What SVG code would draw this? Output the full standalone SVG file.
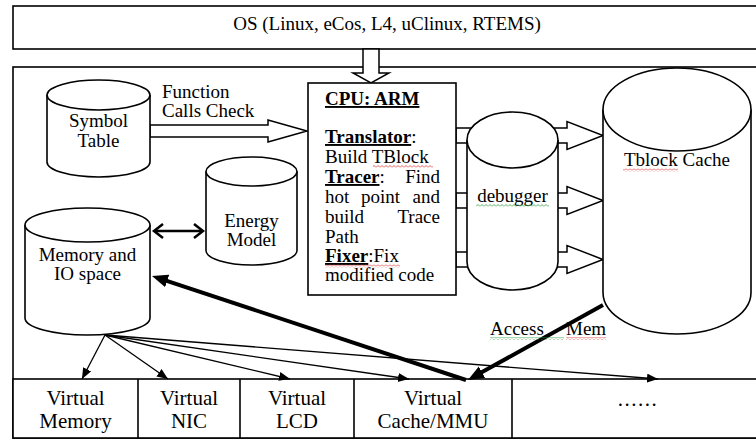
<svg xmlns="http://www.w3.org/2000/svg" width="756" height="440" viewBox="0 0 756 440">
  <style>
    text { font-family: "Liberation Serif", "Times New Roman", serif; fill: #000; }
    .t19 { font-size: 19px; }
    .t21 { font-size: 21px; }
    .mid { text-anchor: middle; }
    .end { text-anchor: end; }
    .b { font-weight: bold; text-decoration: underline; }
    .box { fill: #fff; stroke: #000; stroke-width: 1.6; }
    .cyl { fill: #fff; stroke: #000; stroke-width: 1.6; }
    .hollow { fill: #fff; stroke: #000; stroke-width: 1.5; stroke-linejoin: miter; }
    .thin { fill: none; stroke: #000; stroke-width: 1.3; marker-end: url(#headThin); }
    .thick { fill: none; stroke: #000; stroke-width: 4; marker-end: url(#headThick); }
  </style>
  <defs>
    <marker id="headThin" markerUnits="userSpaceOnUse" markerWidth="12" markerHeight="10" refX="11" refY="4.5" orient="auto">
      <path d="M0,0 L11,4.5 L0,9 z" fill="#000"/>
    </marker>
    <marker id="headThick" markerUnits="userSpaceOnUse" markerWidth="18" markerHeight="14" refX="6" refY="6.5" orient="auto">
      <path d="M0,0 L16,6.5 L0,13 z" fill="#000"/>
    </marker>
    <pattern id="waveRed" patternUnits="userSpaceOnUse" width="4" height="3">
      <path d="M0,2.5 L2,0.5 L4,2.5" fill="none" stroke="#e03030" stroke-width="0.8"/>
    </pattern>
    <pattern id="waveGreen" patternUnits="userSpaceOnUse" width="4" height="3">
      <path d="M0,2.5 L2,0.5 L4,2.5" fill="none" stroke="#2a9a3a" stroke-width="0.8"/>
    </pattern>
  </defs>

  <!-- operating system layer -->
  <g id="os">
    <rect class="box" x="13" y="6" width="760" height="43"/>
    <text class="t19 mid" x="387" y="30">OS (Linux, eCos, L4, uClinux, RTEMS)</text>
  </g>

  <!-- simulator frame -->
  <g id="frame">
    <rect class="box" x="13" y="67" width="760" height="371"/>
  </g>

  <g id="connectors">
    <!-- OS to CPU -->
    <polygon class="hollow" points="363,49 379,49 379,73 389,73 371,83 353,73 363,73"/>
    <!-- function calls check -->
    <polygon class="hollow" points="150,125 268,125 268,120 307,131 268,142 268,137 150,137"/>
    <!-- CPU through debugger to Tblock Cache -->
    <polygon class="hollow" points="456,128 567,128 567,121.5 603,135.5 567,149.5 567,143 456,143"/>
    <polygon class="hollow" points="456,193 567,193 567,186.5 603,200.5 567,214.5 567,208 456,208"/>
    <polygon class="hollow" points="456,252 567,252 567,245.5 603,259.5 567,273.5 567,267 456,267"/>
  </g>

  <!-- Symbol Table -->
  <g id="symbol-table">
    <path class="cyl" d="M47,95 L47,162 A51.5,15 0 0 0 150,162 L150,95"/>
    <ellipse class="cyl" cx="98.5" cy="95" rx="51.5" ry="15"/>
    <text class="t19 mid" x="98.5" y="127">Symbol</text>
    <text class="t19 mid" x="98.5" y="147">Table</text>
  </g>
  <text class="t19" x="162" y="98">Function</text>
  <text class="t19" x="162" y="117">Calls Check</text>

  <!-- Energy Model -->
  <g id="energy-model">
    <path class="cyl" d="M206,171.5 L206,250.5 A45.5,14.5 0 0 0 297,250.5 L297,171.5"/>
    <ellipse class="cyl" cx="251.5" cy="171.5" rx="45.5" ry="14.5"/>
    <text class="t19 mid" x="251.5" y="227">Energy</text>
    <text class="t19 mid" x="251.5" y="246">Model</text>
  </g>

  <!-- Memory and IO space -->
  <g id="memory-io">
    <path class="cyl" d="M25,225 L25,318 A62.5,17 0 0 0 150,318 L150,225"/>
    <ellipse class="cyl" cx="87.5" cy="225" rx="62.5" ry="17"/>
    <text class="t19 mid" x="87.5" y="261">Memory and</text>
    <text class="t19 mid" x="87.5" y="280">IO space</text>
  </g>

  <!-- CPU -->
  <g id="cpu">
    <rect class="box" x="308" y="83" width="148" height="212"/>
    <text class="t19" x="325" y="105"><tspan class="b">CPU: ARM</tspan></text>
    <text class="t19" x="325" y="143"><tspan class="b">Translator</tspan>:</text>
    <text class="t19" x="325" y="163">Build TBlock</text>
    <rect x="373" y="165" width="60" height="3" fill="url(#waveRed)"/>
    <text class="t19" x="325" y="183"><tspan class="b">Tracer</tspan>:</text>
    <text class="t19 end" x="440" y="183">Find</text>
    <text class="t19" x="325" y="203">hot</text>
    <text class="t19" x="361" y="203">point</text>
    <text class="t19 end" x="440" y="203">and</text>
    <text class="t19" x="325" y="223">build</text>
    <text class="t19 end" x="440" y="223">Trace</text>
    <text class="t19" x="325" y="243">Path</text>
    <text class="t19" x="325" y="262"><tspan class="b">Fixer</tspan>:Fix</text>
    <rect x="325" y="264.5" width="75" height="3" fill="url(#waveRed)"/>
    <text class="t19" x="325" y="281">modified code</text>
  </g>

  <!-- debugger -->
  <g id="debugger">
    <path class="cyl" d="M467,140 L467,262 A45.5,28 0 0 0 558,262 L558,140"/>
    <ellipse class="cyl" cx="512.5" cy="140" rx="45.5" ry="28"/>
    <text class="t19 mid" x="512.5" y="202">debugger</text>
    <rect x="476" y="204" width="73" height="3" fill="url(#waveGreen)"/>
  </g>

  <!-- Tblock Cache -->
  <g id="tblock-cache">
    <path class="cyl" d="M603,109.5 L603,292.5 A74,41.5 0 0 0 751,292.5 L751,109.5"/>
    <ellipse class="cyl" cx="677" cy="109.5" rx="74" ry="41.5"/>
    <text class="t19 mid" x="677" y="166">Tblock Cache</text>
    <rect x="623" y="168.5" width="55" height="3" fill="url(#waveRed)"/>
  </g>

  <!-- virtual devices -->
  <g id="virtual-devices">
    <rect class="box" x="13" y="379" width="760" height="59"/>
    <line x1="138" y1="379" x2="138" y2="438" stroke="#000" stroke-width="1.6"/>
    <line x1="240" y1="379" x2="240" y2="438" stroke="#000" stroke-width="1.6"/>
    <line x1="354" y1="379" x2="354" y2="438" stroke="#000" stroke-width="1.6"/>
    <line x1="512" y1="379" x2="512" y2="438" stroke="#000" stroke-width="1.6"/>
    <g id="virtual-memory">
      <text class="t21 mid" x="75.5" y="405">Virtual</text>
      <text class="t21 mid" x="75.5" y="428">Memory</text>
    </g>
    <g id="virtual-nic">
      <text class="t21 mid" x="189" y="405">Virtual</text>
      <text class="t21 mid" x="189" y="428">NIC</text>
    </g>
    <g id="virtual-lcd">
      <text class="t21 mid" x="297" y="405">Virtual</text>
      <text class="t21 mid" x="297" y="428">LCD</text>
    </g>
    <g id="virtual-cache-mmu">
      <text class="t21 mid" x="433" y="405">Virtual</text>
      <text class="t21 mid" x="433" y="428">Cache/MMU</text>
    </g>
    <g id="more-devices">
      <text class="t21 mid" x="638" y="406" letter-spacing="1.5">......</text>
    </g>
  </g>

  <g id="links">
    <!-- memory <-> energy model -->
    <line x1="155" y1="231" x2="202" y2="231" stroke="#000" stroke-width="2.5"/>
    <polyline points="163,224 154,231 163,238" fill="none" stroke="#000" stroke-width="2.5"/>
    <polyline points="194,224 203,231 194,238" fill="none" stroke="#000" stroke-width="2.5"/>
    <!-- memory to virtual devices -->
    <line class="thin" x1="105" y1="335" x2="82" y2="379"/>
    <line class="thin" x1="105" y1="335" x2="168" y2="379"/>
    <line class="thin" x1="105" y1="335" x2="290" y2="379"/>
    <line class="thin" x1="105" y1="335" x2="409" y2="379"/>
    <line class="thin" x1="105" y1="335" x2="658" y2="379"/>
    <!-- cache/MMU back to memory -->
    <line class="thick" x1="466" y1="380" x2="161.5" y2="279.1"/>
    <!-- Tblock cache memory access -->
    <line class="thick" x1="603" y1="305" x2="476.7" y2="375.1"/>
  </g>
  <text class="t19" x="490" y="335">Access</text>
  <text class="t19" x="566" y="335">Mem</text>
  <rect x="490" y="337" width="74" height="3" fill="url(#waveGreen)"/>
  <rect x="566" y="337" width="40" height="3" fill="url(#waveRed)"/>
</svg>
